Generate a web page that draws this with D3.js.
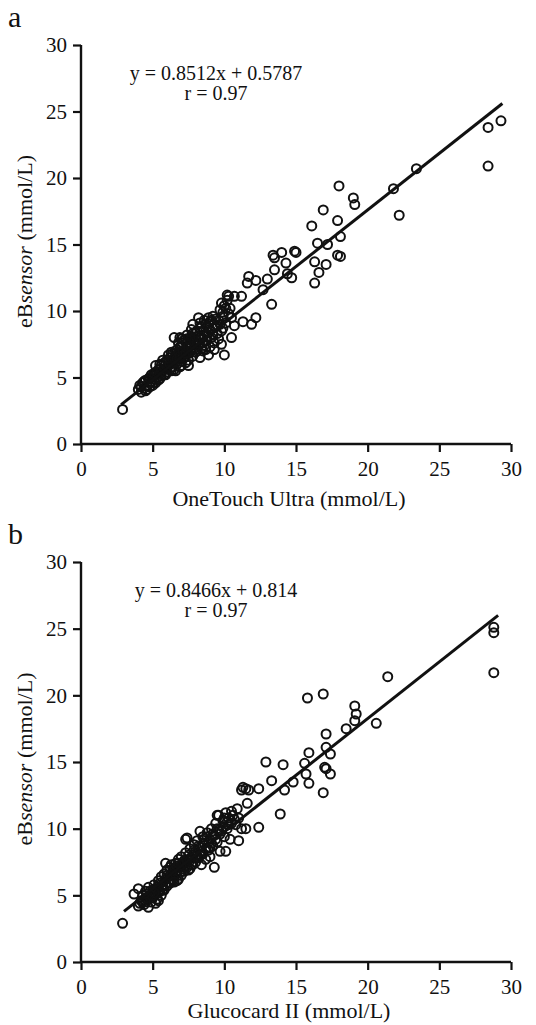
<!DOCTYPE html>
<html>
<head>
<meta charset="utf-8">
<script src="https://cdn.jsdelivr.net/npm/d3@7"></script>
<style>
  body { margin: 0; background: #fff; }
  svg text { font-family: "Liberation Serif", "Times New Roman", Times, serif; fill: #111; }
</style>
</head>
<body>
<div id="viz"></div>
<script>
var width = 536,
    height = 1025;

// axis ticks (both panels)
var tickValues = [0, 5, 10, 15, 20, 25, 30];

// panel a: OneTouch Ultra vs eBsensor, [reference, eBsensor]
var pointsA = [
  [2.9, 2.6], [4.0, 4.1], [4.1, 4.4], [4.2, 3.9], [4.3, 4.6], [4.4, 4.2], [4.5, 4.0], [4.5, 4.8],
  [4.6, 4.4], [4.7, 4.9], [4.8, 4.3], [4.9, 4.7], [5.0, 5.1], [5.0, 4.4], [5.1, 4.9], [5.2, 5.4],
  [5.2, 4.6], [4.9, 5.2], [5.3, 5.0], [5.4, 5.6], [5.4, 4.8], [5.5, 5.3], [5.6, 5.9], [5.6, 5.1],
  [5.7, 5.5], [5.8, 6.1], [5.8, 5.2], [5.5, 6.0], [5.2, 5.9], [5.9, 5.7], [6.0, 6.3], [6.0, 5.4],
  [6.1, 5.9], [6.2, 6.5], [6.2, 5.6], [6.3, 6.1], [6.4, 6.8], [6.4, 5.8], [6.5, 6.3], [6.5, 5.6],
  [6.6, 6.6], [6.7, 7.1], [6.7, 6.0], [6.8, 6.4], [6.9, 7.3], [6.9, 5.8], [7.0, 6.8], [7.0, 6.2],
  [7.1, 7.6], [7.2, 6.5], [7.2, 7.0], [7.3, 7.9], [7.3, 6.1], [7.4, 7.3], [7.5, 6.8], [7.6, 8.0],
  [7.6, 7.0], [7.7, 7.5], [7.8, 6.6], [7.8, 8.3], [7.9, 7.2], [8.0, 7.8], [8.0, 6.9], [8.1, 8.5],
  [8.2, 7.4], [8.3, 8.0], [8.3, 6.5], [8.4, 8.8], [8.5, 7.6], [8.6, 8.2], [8.7, 7.1], [8.7, 9.0],
  [8.8, 7.8], [8.9, 8.4], [9.0, 7.3], [9.0, 9.2], [9.1, 8.0], [9.2, 8.7], [9.3, 7.6], [9.4, 9.4],
  [9.5, 8.3], [9.6, 7.9], [9.7, 9.0], [9.8, 8.5], [9.9, 9.6], [10.0, 10.4], [10.1, 9.1], [10.2, 10.8],
  [10.4, 10.2], [10.5, 9.5], [10.2, 11.2], [6.3, 6.9], [6.8, 7.6], [7.4, 8.2], [7.5, 6.3], [8.1, 7.0],
  [8.6, 9.3], [9.2, 9.6], [7.0, 7.9], [6.1, 6.7], [5.7, 6.3], [8.4, 7.2], [9.5, 8.9], [8.9, 9.5],
  [8.2, 9.5], [7.8, 8.0], [6.5, 8.0], [7.5, 5.9], [8.9, 6.7], [9.3, 7.1], [10.0, 6.7], [10.5, 8.0],
  [10.7, 8.9], [11.3, 9.2], [11.9, 9.0], [12.2, 9.5], [9.8, 10.6], [9.9, 9.9], [10.3, 11.1],
  [10.7, 11.1], [11.2, 11.1], [11.6, 12.1], [11.7, 12.6], [12.2, 12.3], [12.7, 11.6], [13.0, 12.4],
  [13.3, 10.5], [13.5, 13.1], [13.5, 14.0], [13.4, 14.2], [14.0, 14.4], [14.3, 13.6], [14.4, 12.8],
  [14.7, 12.5], [14.9, 14.5], [15.0, 14.4], [16.3, 13.7], [16.3, 12.1], [16.6, 12.9], [17.1, 13.5],
  [18.1, 14.1], [17.9, 14.2], [16.5, 15.1], [17.2, 15.0], [18.1, 15.6], [16.1, 16.4], [17.9, 16.8],
  [16.9, 17.6], [19.0, 18.5], [19.1, 18.0], [18.0, 19.4], [21.8, 19.2], [22.2, 17.2], [23.4, 20.7],
  [28.4, 23.8], [29.3, 24.3], [28.4, 20.9],
  [4.2, 4.3], [4.4, 4.7], [4.6, 4.1], [4.8, 5.0], [5.0, 4.6], [5.1, 5.3], [5.3, 5.4], [5.5, 4.9],
  [5.6, 5.5], [5.9, 6.0], [6.0, 5.8], [6.1, 6.2], [6.2, 6.0], [6.3, 5.5], [6.4, 6.4], [6.6, 6.1],
  [6.6, 7.0], [6.7, 6.4], [6.8, 6.9], [6.9, 6.6], [7.0, 7.3], [7.1, 6.4], [7.1, 7.0], [7.2, 7.8],
  [7.3, 6.8], [7.4, 7.6], [7.5, 7.3], [7.6, 7.8], [7.7, 7.0], [7.7, 8.6], [7.9, 7.7], [8.0, 8.4],
  [8.1, 7.6], [8.2, 8.1], [8.3, 8.7], [8.4, 7.9], [8.5, 8.5], [8.6, 7.4], [8.8, 8.8], [8.8, 8.1],
  [9.0, 8.6], [9.1, 9.3], [9.2, 8.2], [9.4, 8.8], [9.6, 9.3], [9.7, 10.1], [9.9, 8.7], [10.1, 10.2],
  [10.3, 9.8], [7.0, 5.9], [6.6, 5.5], [5.9, 5.2], [8.5, 7.0], [9.8, 7.5], [7.8, 9.0], [8.3, 9.1],
  [6.9, 8.0]
];

// panel b: Glucocard II vs eBsensor
var pointsB = [
  [2.9, 2.9], [3.7, 5.1], [4.0, 5.5], [4.0, 4.2], [4.7, 4.1], [5.2, 4.4], [4.1, 4.4], [4.2, 4.6],
  [4.3, 5.0], [4.4, 4.3], [4.5, 5.3], [4.6, 4.7], [4.7, 5.6], [4.8, 4.9], [4.9, 4.5], [5.0, 5.4],
  [5.0, 4.8], [5.1, 5.8], [5.2, 5.1], [5.3, 4.7], [5.3, 5.6], [5.4, 6.1], [5.5, 5.3], [5.6, 6.4],
  [5.6, 5.0], [5.7, 5.8], [5.8, 6.6], [5.8, 5.4], [5.9, 6.2], [6.0, 5.7], [6.0, 6.9], [6.1, 6.4],
  [6.2, 5.9], [6.2, 7.1], [6.3, 6.6], [6.4, 6.1], [6.5, 7.0], [6.5, 6.4], [6.6, 7.4], [6.7, 6.8],
  [6.8, 6.2], [6.8, 7.7], [6.9, 7.1], [7.0, 6.5], [7.0, 7.9], [7.1, 7.4], [7.2, 6.8], [7.3, 8.2],
  [7.3, 7.2], [7.4, 9.3], [7.5, 7.7], [7.5, 6.9], [7.6, 8.5], [7.7, 7.3], [7.8, 8.0], [7.9, 8.8],
  [8.0, 7.5], [8.0, 8.3], [8.1, 9.1], [8.2, 7.8], [8.3, 8.6], [8.4, 7.3], [8.5, 9.4], [8.5, 8.1],
  [8.6, 8.9], [8.7, 7.7], [8.8, 9.7], [8.9, 8.4], [9.0, 9.2], [9.0, 7.9], [9.1, 10.0], [9.2, 8.7],
  [9.3, 9.5], [9.4, 10.4], [9.5, 9.0], [9.6, 11.0], [9.7, 8.3], [9.8, 9.8], [9.9, 10.6], [10.0, 9.4],
  [10.1, 11.2], [10.2, 10.0], [10.3, 10.8], [10.4, 9.2], [10.6, 11.0], [10.8, 10.3], [11.0, 10.8],
  [11.2, 10.0], [5.9, 7.4], [6.3, 7.3], [7.6, 7.0], [8.3, 9.8], [6.7, 6.1], [5.4, 4.6], [4.6, 5.1],
  [7.3, 9.2], [9.3, 7.1], [10.1, 8.3], [11.0, 9.1], [11.5, 10.0], [10.5, 10.4], [9.5, 11.0],
  [10.9, 11.5], [11.6, 11.9], [12.4, 10.1], [11.2, 12.9], [11.5, 13.0], [11.3, 13.1], [11.7, 12.9],
  [12.4, 13.0], [13.3, 13.6], [13.9, 11.1], [14.2, 12.9], [14.8, 13.5], [15.7, 14.1], [15.9, 13.4],
  [16.9, 12.7], [17.4, 14.1], [17.0, 14.6], [17.1, 14.5], [12.9, 15.0], [14.1, 14.8], [15.6, 14.9],
  [15.9, 15.7], [17.4, 15.6], [17.1, 16.1], [17.1, 17.1], [18.5, 17.5], [19.1, 18.1], [19.2, 18.6],
  [19.1, 19.2], [15.8, 19.8], [16.9, 20.1], [20.6, 17.9], [21.4, 21.4], [28.8, 25.1], [28.8, 24.7],
  [28.8, 21.7],
  [4.3, 4.5], [4.5, 4.8], [4.8, 5.3], [5.0, 5.0], [5.2, 5.5], [5.4, 5.2], [5.5, 5.9], [5.7, 5.4],
  [5.9, 5.8], [6.1, 6.0], [6.3, 6.2], [6.4, 6.8], [6.6, 6.6], [6.7, 7.2], [6.9, 6.7], [7.1, 7.0],
  [7.2, 7.6], [7.4, 7.1], [7.5, 8.0], [7.7, 7.8], [7.8, 7.3], [7.9, 8.4], [8.1, 8.0], [8.2, 8.7],
  [8.4, 8.3], [8.6, 9.2], [8.7, 8.5], [8.9, 9.0], [9.1, 8.9], [9.2, 9.6], [9.4, 9.2], [9.5, 10.0],
  [9.7, 9.6], [9.9, 10.1], [10.0, 10.8], [10.3, 10.3], [10.5, 11.3], [10.7, 10.7], [6.0, 6.5],
  [6.5, 6.0], [7.0, 7.3], [8.0, 7.9], [9.0, 8.6], [5.6, 5.6], [6.8, 7.4], [7.6, 7.6], [8.3, 8.0],
  [8.8, 9.4], [9.6, 9.9], [10.2, 10.5], [5.1, 5.2], [4.5, 4.5]
];

// trend line end points as drawn in each panel [x, y]
var lineA = [[2.8, 2.96], [29.4, 25.6]];
var lineB = [[3.0, 3.8], [29.1, 26.0]];

var panels = [
  { letter: "a", points: pointsA, line: lineA, top: 45, bottom: 444, titleOffset: 62,
    eq: "y = 0.8512x + 0.5787", r: "r = 0.97", xTitle: "OneTouch Ultra (mmol/L)" },
  { letter: "b", points: pointsB, line: lineB, top: 562, bottom: 962, titleOffset: 56,
    eq: "y = 0.8466x + 0.814", r: "r = 0.97", xTitle: "Glucocard II (mmol/L)" }
];

var serif = "'Liberation Serif', 'Times New Roman', Times, serif";

var svg = d3.select("#viz").append("svg")
    .attr("width", width)
    .attr("height", height)
    .attr("font-family", serif);

var left = 81, right = 511;

panels.forEach(function(p) {
  var x = d3.scaleLinear().domain([0, 30]).range([left, right]);
  var y = d3.scaleLinear().domain([0, 30]).range([p.bottom, p.top]);

  var g = svg.append("g");

  // panel letter
  g.append("text")
      .attr("x", 8)
      .attr("y", p.top - 18)
      .style("font-size", "30px")
      .text(p.letter);

  var xAxis = g.append("g")
      .attr("transform", "translate(0," + p.bottom + ")")
      .call(d3.axisBottom(x).tickValues(tickValues).tickSize(8).tickPadding(9));

  var yAxis = g.append("g")
      .attr("transform", "translate(" + left + ",0)")
      .call(d3.axisLeft(y).tickValues(tickValues).tickSize(8).tickPadding(6));

  [xAxis, yAxis].forEach(function(a) {
    a.attr("font-family", serif);
    a.select(".domain").attr("stroke", "#111").attr("stroke-width", 2.4);
    a.selectAll(".tick line").attr("stroke", "#111").attr("stroke-width", 2.2);
    a.selectAll(".tick text")
        .style("font-size", "21px")
        .attr("fill", "#111");
  });
  xAxis.select(".domain").attr("d", "M" + left + ",0H" + right);
  yAxis.select(".domain").attr("d", "M0," + p.top + "V" + p.bottom);

  // x title
  g.append("text")
      .attr("x", 289)
      .attr("y", p.bottom + p.titleOffset)
      .attr("text-anchor", "middle")
      .style("font-size", "22px")
      .text(p.xTitle);

  // y title
  var yt = g.append("text")
      .attr("transform", "translate(32," + ((p.top + p.bottom) / 2 - 3) + ") rotate(-90)")
      .attr("text-anchor", "middle")
      .style("font-size", "22px");
  yt.append("tspan").text("eB");
  yt.append("tspan").style("font-style", "italic").text("sensor");
  yt.append("tspan").text(" (mmol/L)");

  // equation
  g.append("text")
      .attr("x", 216)
      .attr("y", p.top + 35)
      .attr("text-anchor", "middle")
      .style("font-size", "20px")
      .text(p.eq);
  g.append("text")
      .attr("x", 216)
      .attr("y", p.top + 55)
      .attr("text-anchor", "middle")
      .style("font-size", "20px")
      .text(p.r);

  // points
  g.append("g")
    .selectAll("circle")
    .data(p.points)
    .enter().append("circle")
      .attr("cx", function(d) { return x(d[0]); })
      .attr("cy", function(d) { return y(d[1]); })
      .attr("r", 4.5)
      .attr("fill", "none")
      .attr("stroke", "#111")
      .attr("stroke-width", 2);

  // regression line
  g.append("path")
      .datum(p.line)
      .attr("d", d3.line().x(function(d) { return x(d[0]); }).y(function(d) { return y(d[1]); }))
      .attr("fill", "none")
      .attr("stroke", "#111")
      .attr("stroke-width", 3);
});
</script>
</body>
</html>
